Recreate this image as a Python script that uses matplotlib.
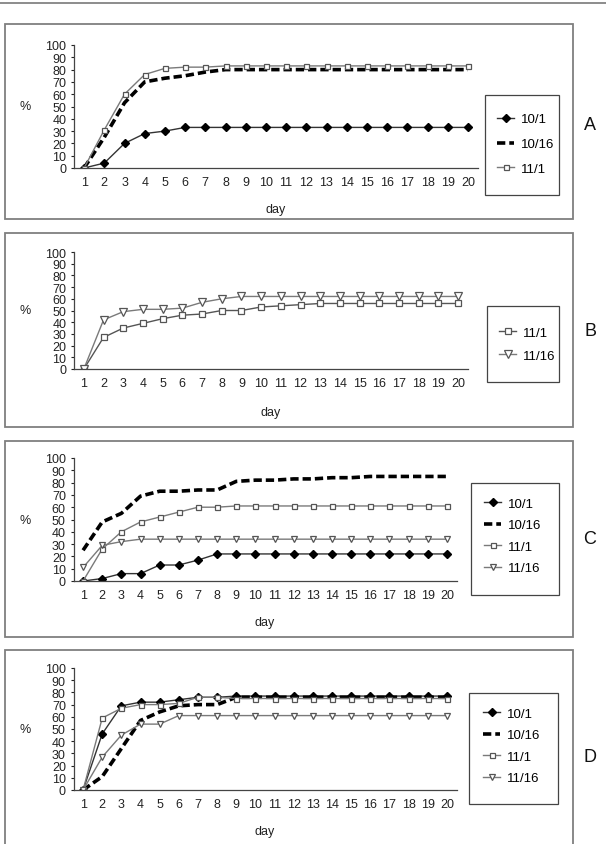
import matplotlib.pyplot as plt
from matplotlib.patches import Rectangle
from matplotlib.lines import Line2D

plt.rcParams['font.family'] = ['Liberation Sans', 'DejaVu Sans']

#%%
# values (percent per day)
days = list(range(1, 21))

a_oct1 = [0, 4, 20, 28, 30, 33, 33, 33, 33, 33, 33, 33, 33, 33, 33, 33, 33, 33, 33, 33]
a_oct16 = [0, 25, 53, 70, 73, 75, 78, 80, 80, 80, 80, 80, 80, 80, 80, 80, 80, 80, 80, 80]
a_nov1 = [0, 31, 60, 76, 81, 82, 82, 83, 83, 83, 83, 83, 83, 83, 83, 83, 83, 83, 83, 83]

b_nov1 = [0, 27, 35, 39, 43, 46, 47, 50, 50, 53, 54, 55, 56, 56, 56, 56, 56, 56, 56, 56]
b_nov16 = [0, 42, 49, 51, 51, 52, 57, 60, 62, 62, 62, 62, 62, 62, 62, 62, 62, 62, 62, 62]

c_oct1 = [0, 2, 6, 6, 13, 13, 17, 22, 22, 22, 22, 22, 22, 22, 22, 22, 22, 22, 22, 22]
c_oct16 = [25, 48, 55, 69, 73, 73, 74, 74, 81, 82, 82, 83, 83, 84, 84, 85, 85, 85, 85, 85]
c_nov1 = [0, 26, 40, 48, 52, 56, 60, 60, 61, 61, 61, 61, 61, 61, 61, 61, 61, 61, 61, 61]
c_nov16 = [11, 29, 32, 34, 34, 34, 34, 34, 34, 34, 34, 34, 34, 34, 34, 34, 34, 34, 34, 34]

d_oct1 = [0, 46, 69, 72, 72, 74, 76, 76, 77, 77, 77, 77, 77, 77, 77, 77, 77, 77, 77, 77]
d_oct16 = [0, 11, 34, 57, 64, 69, 70, 70, 76, 76, 76, 76, 76, 76, 76, 76, 76, 76, 76, 76]
d_nov1 = [0, 59, 67, 70, 70, 71, 76, 76, 75, 75, 75, 75, 75, 75, 75, 75, 75, 75, 75, 75]
d_nov16 = [0, 27, 45, 54, 54, 61, 61, 61, 61, 61, 61, 61, 61, 61, 61, 61, 61, 61, 61, 61]

yticks = list(range(0, 101, 10))

#%%
W, H = 606, 845
fig = plt.figure(figsize=(W / 100, H / 100), dpi=100)

def fx(x):
    return x / W

def fy(y):
    return 1 - y / H

styles = {
    '10/1': dict(color='#333333', lw=1.0, marker='D', ms=4.2, mfc='black', mec='black'),
    '10/16': dict(color='black', lw=2.6, ls=(0, (2.3, 1.1))),
    '11/1': dict(color='#7a7a7a', lw=1.0, marker='s', ms=3.6, mfc='white', mec='#555555', mew=0.9),
    '11/16': dict(color='#7a7a7a', lw=1.0, marker='v', ms=5.0, mfc='white', mec='#555555', mew=0.9),
}

# panel: name, series, outer box, axes (left, right, y at 0, y at 100),
# legend box, legend handle x, legend centre y, panel letter y, "day" y, marker size tweak
panels = [
    ('A', [('10/1', a_oct1), ('10/16', a_oct16), ('11/1', a_nov1)],
     (5, 25, 573, 220), (74, 478, 169, 46), (485, 96, 559, 196), 497, 145, 125, 210, 0.95),
    ('B', [('11/1', b_nov1), ('11/16', b_nov16)],
     (5, 234, 573, 428), (74, 468, 370, 253), (487, 307, 559, 383), 499, 345, 332, 413, 0.8),
    ('C', [('10/1', c_oct1), ('10/16', c_oct16), ('11/1', c_nov1), ('11/16', c_nov16)],
     (5, 442, 573, 638), (73.5, 456.5, 582, 459), (471, 484, 559, 596), 484, 537, 540, 623, 0.7),
    ('D', [('10/1', d_oct1), ('10/16', d_oct16), ('11/1', d_nov1), ('11/16', d_nov16)],
     (5, 651, 573, 870), (73.5, 456.5, 791, 669), (469, 694, 558, 805), 483, 747, 758, 832, 0.7),
]

# thin rule across the top of the page
fig.add_artist(Line2D([0, 1], [fy(4), fy(4)], color='#8c8c8c', lw=1.4, transform=fig.transFigure))

for name, series, box, axpos, lbox, lx, ly, tly, dayy, lspace in panels:
    x0, y0, x1, y1 = box
    fig.add_artist(Rectangle((fx(x0), fy(y1)), fx(x1 - x0), (y1 - y0) / H,
                             transform=fig.transFigure, fill=False, ec='#7f7f7f', lw=1.3))
    bx0, by0, bx1, by1 = lbox
    fig.add_artist(Rectangle((fx(bx0), fy(by1)), fx(bx1 - bx0), (by1 - by0) / H,
                             transform=fig.transFigure, fill=False, ec='#444444', lw=0.9))

    left, right, yb, yt = axpos
    ax = fig.add_axes([fx(left), fy(yb), fx(right - left), (yb - yt) / H])
    for lab, vals in series:
        st = dict(styles[lab])
        if name == 'B' and 'marker' in st:
            st['ms'] = st['ms'] + 1.4
            st['color'] = '#555555' if lab == '11/1' else '#7a7a7a'
        ax.plot(days, vals, label=lab, **st)

    ax.set_xlim(0.5, 20.5)
    ax.set_ylim(0, 100)
    ax.set_xticks(days)
    ax.set_yticks(yticks)
    ax.tick_params(axis='x', length=0, pad=6, labelsize=9, colors='#222222')
    ax.tick_params(axis='y', length=2.5, width=0.8, pad=3, labelsize=9, colors='#222222')
    for s in ['top', 'right']:
        ax.spines[s].set_visible(False)
    for s in ['left', 'bottom']:
        ax.spines[s].set_color('#444444')
        ax.spines[s].set_linewidth(0.9)
    ax.patch.set_alpha(0)

    fig.text(fx(25), fy((yb + yt) / 2), '%', ha='center', va='center', fontsize=9, color='#222222')
    fig.text(fx((left + right) / 2), fy(dayy), 'day', ha='center', va='center', fontsize=9, color='#222222')
    fig.text(fx(590), fy(tly), name, ha='center', va='center', fontsize=13, color='#111111')

    ax.legend(loc='center left', bbox_to_anchor=(fx(lx), fy(ly)), bbox_transform=fig.transFigure,
              frameon=False, borderpad=0, borderaxespad=0, handlelength=1.3, handletextpad=0.5,
              labelspacing=lspace, fontsize=9.5, numpoints=1)

plt.savefig('out.png', dpi=100)
